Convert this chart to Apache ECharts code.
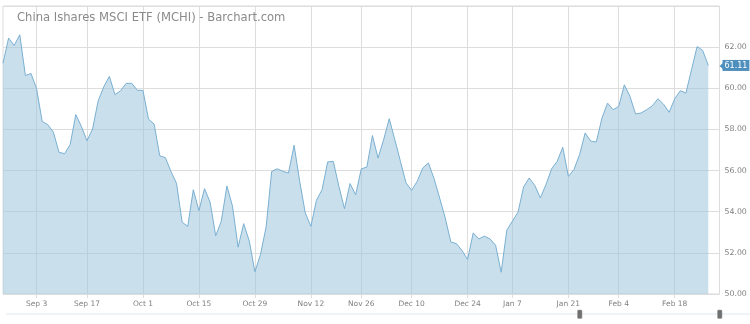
<!DOCTYPE html>
<html>
<head>
<meta charset="utf-8">
<script src="https://cdn.jsdelivr.net/npm/echarts@6/dist/echarts.min.js"></script>
<style>
html,body{margin:0;padding:0;background:#fff;}
#chart{width:750px;height:324px;}
</style>
</head>
<body>
<div id="chart"></div>
<script>
// Trading days (plus two empty future slots at the end of the axis)
var dates = [
"2018-08-24","2018-08-27","2018-08-28","2018-08-29","2018-08-30","2018-08-31",
"2018-09-04","2018-09-05","2018-09-06","2018-09-07","2018-09-10","2018-09-11","2018-09-12","2018-09-13","2018-09-14",
"2018-09-17","2018-09-18","2018-09-19","2018-09-20","2018-09-21","2018-09-24","2018-09-25","2018-09-26","2018-09-27","2018-09-28",
"2018-10-01","2018-10-02","2018-10-03","2018-10-04","2018-10-05","2018-10-08","2018-10-09","2018-10-10","2018-10-11","2018-10-12",
"2018-10-15","2018-10-16","2018-10-17","2018-10-18","2018-10-19","2018-10-22","2018-10-23","2018-10-24","2018-10-25","2018-10-26",
"2018-10-29","2018-10-30","2018-10-31","2018-11-01","2018-11-02","2018-11-05","2018-11-06","2018-11-07","2018-11-08","2018-11-09",
"2018-11-12","2018-11-13","2018-11-14","2018-11-15","2018-11-16","2018-11-19","2018-11-20","2018-11-21","2018-11-23",
"2018-11-26","2018-11-27","2018-11-28","2018-11-29","2018-11-30","2018-12-03","2018-12-04","2018-12-06","2018-12-07",
"2018-12-10","2018-12-11","2018-12-12","2018-12-13","2018-12-14","2018-12-17","2018-12-18","2018-12-19","2018-12-20","2018-12-21",
"2018-12-24","2018-12-26","2018-12-27","2018-12-28","2018-12-31","2019-01-02","2019-01-03","2019-01-04",
"2019-01-07","2019-01-08","2019-01-09","2019-01-10","2019-01-11","2019-01-14","2019-01-15","2019-01-16","2019-01-17","2019-01-18",
"2019-01-22","2019-01-23","2019-01-24","2019-01-25","2019-01-28","2019-01-29","2019-01-30","2019-01-31","2019-02-01",
"2019-02-04","2019-02-05","2019-02-06","2019-02-07","2019-02-08","2019-02-11","2019-02-12","2019-02-13","2019-02-14","2019-02-15",
"2019-02-19","2019-02-20","2019-02-21","2019-02-22","2019-02-25","2019-02-26","2019-02-27",
"2019-02-28","2019-03-01"
];

var prices = [
61.22,62.44,62.08,62.60,60.62,60.72,
59.98,58.39,58.23,57.87,56.89,56.82,57.26,58.72,58.15,
57.45,58.02,59.39,60.07,60.58,59.69,59.88,60.24,60.24,59.90,
59.90,58.50,58.26,56.72,56.63,55.96,55.38,53.49,53.29,55.07,
54.05,55.12,54.46,52.83,53.54,55.25,54.27,52.28,53.42,52.57,
51.08,51.92,53.25,55.96,56.09,55.96,55.88,57.23,55.48,53.94,
53.29,54.56,55.07,56.42,56.45,55.24,54.15,55.37,54.82,
56.08,56.17,57.70,56.61,57.50,58.52,57.50,56.45,55.40,
55.04,55.48,56.13,56.37,55.61,54.67,53.70,52.53,52.45,52.11,
51.68,52.97,52.68,52.81,52.68,52.37,51.06,53.10,
53.54,53.97,55.20,55.64,55.28,54.67,55.32,56.08,56.45,57.13,
55.72,56.05,56.77,57.83,57.43,57.39,58.55,59.28,58.96,
59.12,60.17,59.61,58.75,58.80,58.96,59.15,59.49,59.23,58.83,
59.49,59.88,59.77,60.90,62.03,61.84,61.11
];

var lastPrice = 61.11;

var tickDates  = ["2018-09-04","2018-09-17","2018-10-01","2018-10-15","2018-10-29","2018-11-12","2018-11-26","2018-12-10","2018-12-24","2019-01-07","2019-01-22","2019-02-04","2019-02-19"];
var tickLabels = ["Sep 3","Sep 17","Oct 1","Oct 15","Oct 29","Nov 12","Nov 26","Dec 10","Dec 24","Jan 7","Jan 21","Feb 4","Feb 18"];

var yTicks = [50, 52, 54, 56, 58, 60, 62, 64];

var chart = echarts.init(document.getElementById('chart'), null, {renderer: 'canvas'});
var isTick = function (idx, val) { return tickDates.indexOf(val) >= 0; };

chart.setOption({
  animation: false,
  backgroundColor: '#ffffff',
  title: {
    text: 'China Ishares MSCI ETF (MCHI) - Barchart.com',
    left: 17, top: 12, padding: 0,
    textStyle: {fontFamily: 'DejaVu Sans', fontSize: 11.6, fontWeight: 'normal', color: '#8a8a8a'}
  },
  grid: {
    left: 3, right: 30.5, top: 6, bottom: 30,
    show: true, borderColor: '#dddddd', borderWidth: 1, backgroundColor: 'transparent'
  },
  xAxis: {
    type: 'category',
    data: dates,
    boundaryGap: false,
    axisLine: {show: false},
    axisTick: {show: true, interval: isTick, length: 4, lineStyle: {color: '#dddddd'}},
    splitLine: {show: true, interval: isTick, lineStyle: {color: '#dddddd', width: 1}},
    axisLabel: {
      interval: isTick,
      margin: 6,
      fontFamily: 'DejaVu Sans', fontSize: 7.5, color: '#808080',
      formatter: function (v) { var i = tickDates.indexOf(v); return i >= 0 ? tickLabels[i] : ''; }
    }
  },
  yAxis: {
    type: 'value',
    position: 'right',
    min: yTicks[0], max: yTicks[yTicks.length - 1], interval: 2,
    axisLine: {show: false},
    axisTick: {show: false},
    splitLine: {show: true, lineStyle: {color: '#dddddd', width: 1}},
    axisLabel: {
      margin: 5,
      fontFamily: 'DejaVu Sans', fontSize: 7.8, color: '#808080',
      formatter: function (v) { return v >= 64 ? '' : v.toFixed(2); }
    }
  },
  series: [{
    type: 'line',
    data: prices,
    symbol: 'none',
    lineStyle: {color: '#7ab0d2', width: 1},
    areaStyle: {color: '#9fc6dd', opacity: 0.56, origin: 'start'},
    markLine: {
      silent: true,
      symbol: 'none',
      lineStyle: {color: 'rgba(0,0,0,0)', width: 0, type: 'solid'},
      data: [{yAxis: lastPrice}],
      label: {
        show: true, position: 'end', distance: 3,
        opacity: 1,
        formatter: function () { return lastPrice.toFixed(2); },
        backgroundColor: '#4f8fbd', color: '#ffffff',
        fontFamily: 'DejaVu Sans', fontSize: 8, padding: [2, 2, 1, 2]
      }
    }
  }],
  graphic: [
    {type: 'rect', shape: {x: 6, y: 313.5, width: 744, height: 1}, style: {fill: '#dce8f1'}, silent: true},
    {type: 'rect', shape: {x: 577.5, y: 310, width: 4.5, height: 8.5, r: 1}, style: {fill: '#707070', stroke: '#9a9a9a', lineWidth: 0.5}, silent: true},
    {type: 'rect', shape: {x: 717.5, y: 310, width: 4.5, height: 8.5, r: 1}, style: {fill: '#707070', stroke: '#9a9a9a', lineWidth: 0.5}, silent: true},
    {type: 'polygon', shape: {points: [[719.5, 66], [723, 63], [723, 69]]}, style: {fill: '#4f8fbd'}, silent: true}
  ]
});
</script>
</body>
</html>
